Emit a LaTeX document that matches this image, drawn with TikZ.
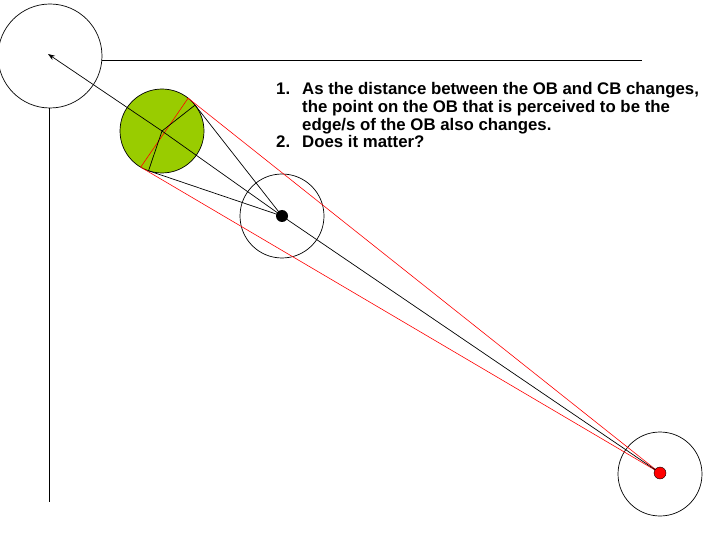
\documentclass[tikz,border=0pt]{standalone}
\usepackage{fontspec}
\setmainfont{Liberation Sans}
\usetikzlibrary{calc,arrows.meta}
\begin{document}
\begin{tikzpicture}[x=1pt,y=-1pt,
  ring/.style={circle,draw=black,line width=0.7pt,inner sep=0pt,outer sep=0pt},
  thin black/.style={draw=black,line width=0.7pt},
  thin red/.style={draw=red,line width=0.6pt},
  dotnode/.style={circle,inner sep=0pt,outer sep=0pt,minimum size=12pt},
  txt/.style={anchor=base west,inner sep=0pt,font=\fontsize{16.8}{18}\selectfont\bfseries}]
\useasboundingbox (0,0) rectangle (720,540);
% circles
\node[ring,minimum size=104pt] (tl) at (50,56) {};
\node[ring,minimum size=84pt] (mid) at (282,216) {};
\node[ring,minimum size=84pt] (br) at (660,474) {};
\node[ring,minimum size=84pt,fill={rgb,255:red,153;green,204;blue,0}] (g) at (162,131) {};
% axes
\coordinate (hs) at (102,60);
\coordinate (he) at (642,60);
\coordinate (vs) at (49,108);
\coordinate (ve) at (49,502);
\draw[thin black] (hs) -- (he);
\draw[thin black] (vs) -- (ve);
% dots positions
\coordinate (bc) at (282,216);
\coordinate (rc) at (660,473);
\coordinate (tip) at (48,54);
% tangent points
\coordinate (rt1) at (tangent cs:node=g,point={(rc)},solution=1);
\coordinate (rt2) at (tangent cs:node=g,point={(rc)},solution=2);
\coordinate (bt1) at (tangent cs:node=g,point={(bc)},solution=1);
\coordinate (bt2) at (tangent cs:node=g,point={(bc)},solution=2);
% red lines
\draw[thin red] (rc) -- (rt1);
\draw[thin red] (rc) -- (rt2);
\draw[thin red] (rt1) -- (rt2);
% black lines
\draw[thin black] (bc) -- (bt1);
\draw[thin black] (bc) -- (bt2);
\draw[thin black] (g.center) -- (bt1);
\draw[thin black] (g.center) -- (bt2);
\draw[thin black,-{Stealth[length=7pt,width=5pt]}] (rc) -- (bc) -- (g.center) -- (tip);
% dots
\node[dotnode,fill=black] (bd) at (bc) {};
\node[dotnode,fill=red,draw=black,line width=0.4pt] (rd) at (rc) {};
% text
\node[txt] (n1) at (276,95) {1.};
\node[txt] (l1) at (302,95) {As the distance between the OB and CB changes,};
\node[txt] (l2) at (302,112.7) {the point on the OB that is perceived to be the};
\node[txt] (l3) at (302,130.4) {edge/s of the OB also changes.};
\node[txt] (n2) at (276,148) {2.};
\node[txt] (l4) at (302,148) {Does it matter?};
\end{tikzpicture}
\end{document}
